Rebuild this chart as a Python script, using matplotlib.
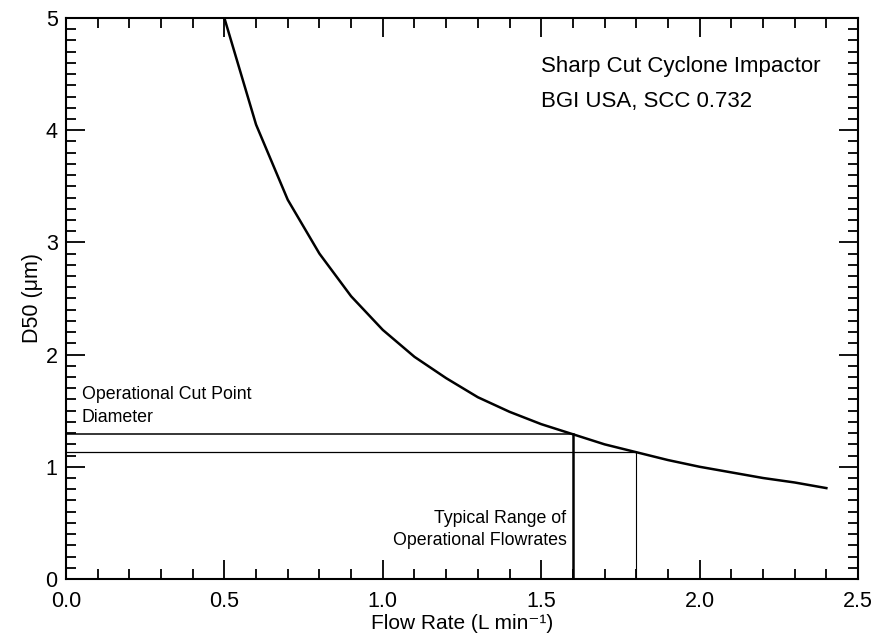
import numpy as np
import matplotlib.pyplot as plt
from matplotlib.ticker import MultipleLocator

plt.rcParams['font.family'] = ['Liberation Sans', 'DejaVu Sans']

# cut point diameter of the SCC 0.732 cyclone vs flow rate
flow = [0.5, 0.6, 0.7, 0.8, 0.9, 1.0, 1.1, 1.2, 1.3, 1.4,
        1.5, 1.6, 1.7, 1.8, 1.9, 2.0, 2.1, 2.2, 2.3, 2.4]
d50 = [5.00, 4.05, 3.38, 2.90, 2.52, 2.22, 1.98, 1.79, 1.62, 1.49,
       1.38, 1.29, 1.20, 1.13, 1.06, 1.00, 0.95, 0.90, 0.86, 0.81]

# operating range
q_lo, q_hi = 1.6, 1.8
d_lo, d_hi = 1.29, 1.13

fig = plt.figure(figsize=(8.76, 6.37), dpi=100)
ax = fig.add_axes([0.0753, 0.0911, 0.9042, 0.8806])

ax.plot(flow, d50, color='black', lw=1.8)

ax.plot([0, q_lo], [d_lo, d_lo], color='black', lw=1.1)
ax.plot([0, q_hi], [d_hi, d_hi], color='black', lw=0.9)
ax.plot([q_lo, q_lo], [0, d_lo], color='black', lw=1.8)
ax.plot([q_hi, q_hi], [0, d_hi], color='black', lw=0.8)

ax.set_xlim(0, 2.5)
ax.set_ylim(0, 5)
ax.xaxis.set_major_locator(MultipleLocator(0.5))
ax.xaxis.set_minor_locator(MultipleLocator(0.1))
ax.yaxis.set_major_locator(MultipleLocator(1))
ax.yaxis.set_minor_locator(MultipleLocator(0.1))
ax.set_xticklabels([f'{v:.1f}' for v in ax.get_xticks()])
ax.tick_params(which='both', direction='in', top=True, right=True, width=1.3)
ax.tick_params(which='major', length=14, labelsize=15.5)
ax.tick_params(axis='x', which='major', pad=9)
ax.tick_params(axis='y', which='major', pad=6)
ax.tick_params(which='minor', length=7)
for s in ax.spines.values():
    s.set_linewidth(1.5)

ax.set_xlabel('Flow Rate (L min\u207b\u00b9)', fontsize=15, labelpad=1)
ax.set_ylabel('D50 (\u03bcm)', fontsize=15.5, labelpad=2)

ax.text(1.5, 4.57, 'Sharp Cut Cyclone Impactor', fontsize=16, va='center')
ax.text(1.5, 4.26, 'BGI USA, SCC 0.732', fontsize=16, va='center')
ax.text(0.05, 1.64, 'Operational Cut Point', fontsize=12.8, va='center')
ax.text(0.05, 1.44, 'Diameter', fontsize=12.8, va='center')
ax.text(1.58, 0.54, 'Typical Range of', fontsize=12.8, va='center', ha='right')
ax.text(1.58, 0.34, 'Operational Flowrates', fontsize=12.8, va='center', ha='right')

plt.savefig('out.png')
